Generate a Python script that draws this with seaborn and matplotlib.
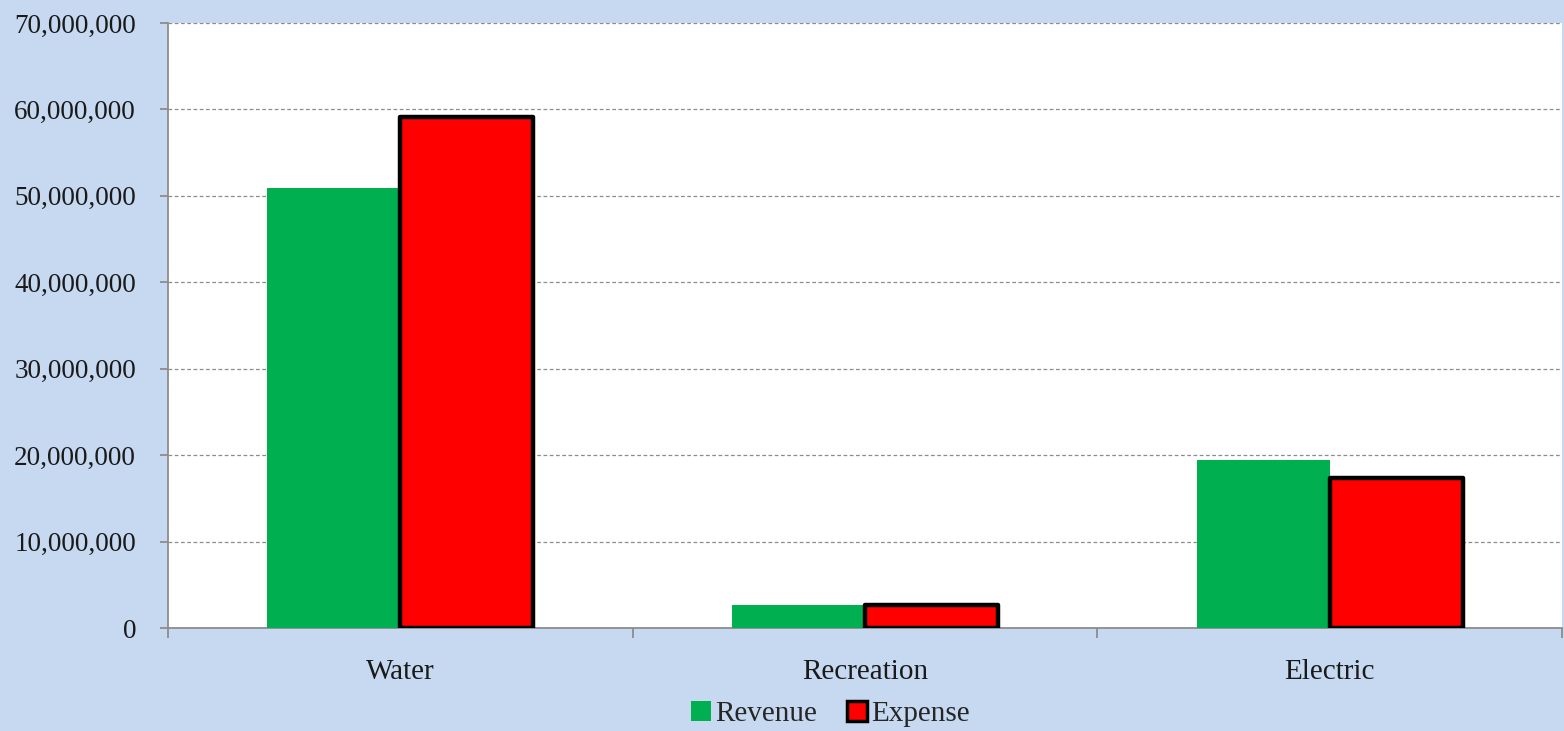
import numpy as np
import pandas as pd
import matplotlib
matplotlib.use("Agg")
import matplotlib.pyplot as plt
import seaborn as sns
from matplotlib.ticker import FuncFormatter
from matplotlib.patches import Patch

# datos
categorias = ["Water", "Recreation", "Electric"]
revenue = [50_900_000, 2_700_000, 19_400_000]
expense = [59_100_000, 2_700_000, 17_300_000]
series = ["Revenue", "Expense"]
colores = {"Revenue": "#00B050", "Expense": "#FF0000"}

df = pd.DataFrame({
    "categoria": categorias * 2,
    "valor": revenue + expense,
    "serie": ["Revenue"] * 3 + ["Expense"] * 3,
})

sns.set_style("white")
plt.rcParams["font.family"] = ["Liberation Serif", "DejaVu Serif"]

bg = "#C6D9F0"
fig = plt.figure(figsize=(15.64, 7.31), dpi=100, facecolor=bg)
ax = fig.add_axes([0.1074, 0.1409, 0.8913, 0.8276])
ax.set_facecolor("white")

sns.barplot(data=df, x="categoria", y="valor", hue="serie", palette=colores,
            width=0.572, gap=0, saturation=1, ax=ax, legend=False, zorder=3)

# borde negro en Expense
for bar in ax.containers[1]:
    bar.set_edgecolor("black")
    bar.set_linewidth(3.2)
    bar.set_joinstyle("round")
for bar in ax.containers[0]:
    bar.set_edgecolor("none")

ax.set_ylim(0, 70_000_000)
ax.set_xlim(-0.5, 2.5)
ax.set_yticks(np.arange(0, 70_000_001, 10_000_000))
ax.yaxis.set_major_formatter(FuncFormatter(lambda v, p: f"{int(v):,}"))
ax.yaxis.grid(True, linestyle=(0, (3, 2)), color="#8C8C8C", linewidth=0.9, zorder=0)
ax.set_axisbelow(True)

ax.set_xticks([-0.5, 0.5, 1.5, 2.5], minor=True)
ax.tick_params(axis="x", which="major", length=0, pad=22, labelsize=21, colors="#1a1a1a")
ax.tick_params(axis="x", which="minor", length=7, width=1.3, color="#8C8C8C",
               direction="out", bottom=True)
ax.tick_params(axis="y", length=6, width=1.3, color="#8C8C8C", labelsize=19.5,
               labelcolor="#1a1a1a", direction="out", pad=17, left=True)
ax.set_xlabel("")
ax.set_ylabel("")

for lado in ["top", "right"]:
    ax.spines[lado].set_visible(False)
for lado in ["left", "bottom"]:
    ax.spines[lado].set_color("#8C8C8C")
    ax.spines[lado].set_linewidth(1.3)

handles = [Patch(facecolor=colores["Revenue"], edgecolor="none", label="Revenue"),
           Patch(facecolor=colores["Expense"], edgecolor="black", linewidth=2.5, label="Expense")]
fig.legend(handles=handles, loc="lower center", bbox_to_anchor=(0.531, -0.031), ncol=2,
           frameon=False, fontsize=21, handlelength=0.7, handleheight=0.7,
           handletextpad=0.15, columnspacing=1.0)

fig.savefig("out.png", dpi=100, facecolor=bg)
